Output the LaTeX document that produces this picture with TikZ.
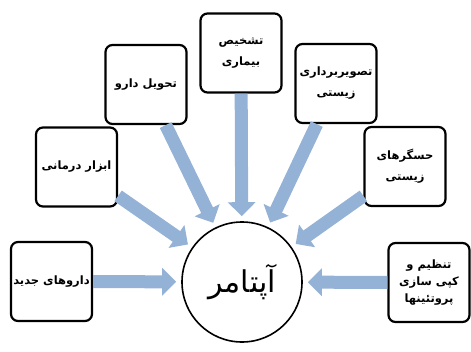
\documentclass[tikz,border=0pt]{standalone}
\usepackage{fontspec}
\newfontfamily\arabicfont[Script=Arabic, BoldFont={DejaVu Sans Bold}]{DejaVu Sans}
\TeXXeTstate=1
\usetikzlibrary{arrows.meta}
\definecolor{arrowblue}{RGB}{148,177,214}
\tikzset{
    topic/.style={draw, line width=2.2pt, rounded corners=7pt, fill=white,
        minimum width=81pt, minimum height=79pt, inner sep=0pt, align=center,
        font=\arabicfont\bfseries\fontsize{11.5}{21}\selectfont},
    hub/.style={draw, circle, line width=1.6pt, minimum size=120pt, inner sep=0pt,
        font=\arabicfont\fontsize{30}{32}\selectfont},
    feed/.style={draw=arrowblue, line width=13pt, shorten >=5pt,
        -{Triangle[length=14pt, width=27pt]}}
}
\begin{document}
\begin{tikzpicture}[x=1pt, y=-1pt]
    \useasboundingbox (0,0) rectangle (471,351);

    % Centre
    \node[hub] (apt) at (242,282) {\beginR آپتامر\endR};

    % Application boxes, left to right
    \node[topic] (jadid) at (51.5,281.5) {\beginR داروهای جدید\endR};
    \node[topic] (abzar) at (76.5,167) {\beginR ابزار درمانی\endR};
    \node[topic] (tahvil) at (146,84.5) {\beginR تحویل دارو\endR};
    \node[topic] (tashkhis) at (241,53) {\beginR تشخیص\endR\\\beginR بیماری\endR};
    \node[topic] (tasvir) at (336,83.5) {\beginR تصویربرداری\endR\\\beginR زیستی\endR};
    \node[topic] (hesgar) at (405,166.5) {\beginR حسگرهای\endR\\\beginR زیستی\endR};
    \node[topic, font=\arabicfont\bfseries\fontsize{11.5}{17}\selectfont] (tanzim) at (429,282.5)
        {\beginR تنظیم و\endR\\\beginR کپی سازی\endR\\\beginR پروتئینها\endR};

    % Arrows into the centre
    \foreach \src in {jadid,abzar,tahvil,tashkhis,tasvir,hesgar,tanzim}{
        \draw[feed] (\src) -- (apt);
    }
\end{tikzpicture}
\end{document}
